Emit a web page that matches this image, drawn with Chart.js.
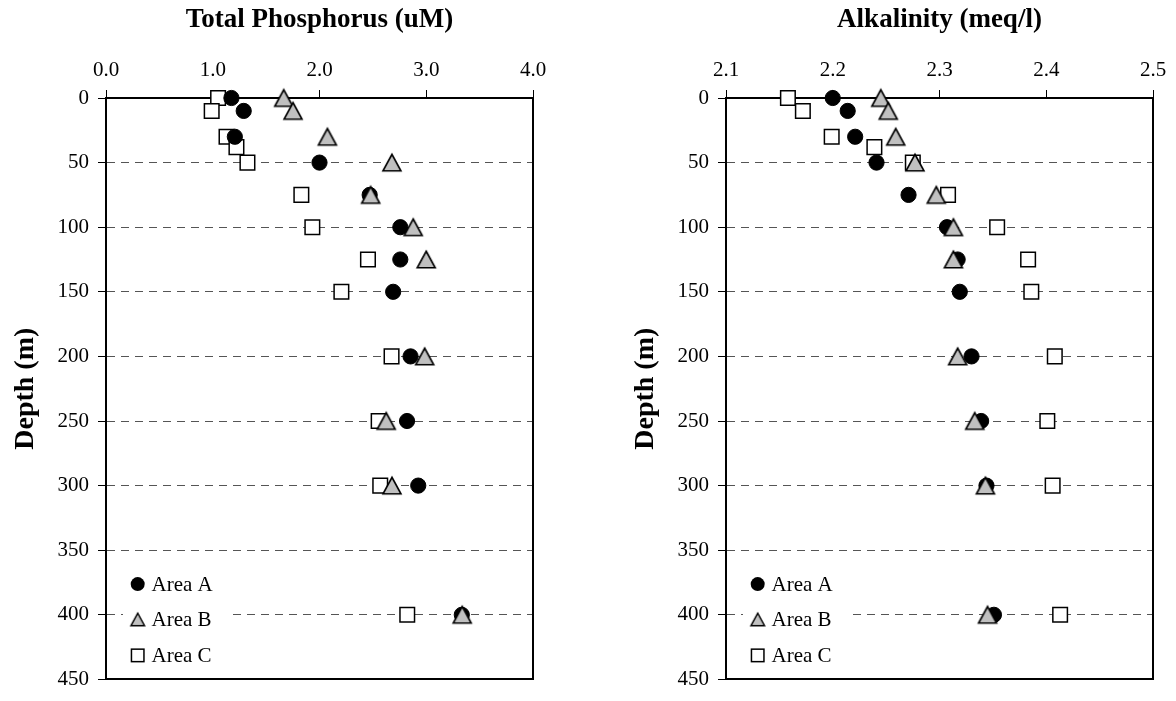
<!DOCTYPE html>
<html><head><meta charset="utf-8">
<script src="https://cdn.jsdelivr.net/npm/chart.js@4.4.1/dist/chart.umd.min.js"></script>
<style>
html,body{margin:0;padding:0;background:#fff;overflow:hidden}
#wrap{position:relative;width:1176px;height:701px;background:#fff}
canvas{position:absolute;top:0}
#c1{left:0}
#c2{left:588px}
</style></head><body>
<div id="wrap"><canvas id="c1" width="588" height="701"></canvas><canvas id="c2" width="588" height="701"></canvas></div>
<script>
// ---- data ----
const seriesNames = ['Area A', 'Area B', 'Area C'];
const depthA = [0, 10, 30, 50, 75, 100, 125, 150, 200, 250, 300, 400];
const depthB = [0, 10, 30, 50, 75, 100, 125, 200, 250, 300, 400];
const depthC = [0, 10, 30, 38, 50, 75, 100, 125, 150, 200, 250, 300, 400];

const tpA = [1.175, 1.29, 1.207, 2.0, 2.47, 2.757, 2.757, 2.69, 2.853, 2.82, 2.925, 3.333];
const tpB = [1.665, 1.752, 2.074, 2.678, 2.479, 2.878, 3.0, 2.985, 2.625, 2.679, 3.337];
const tpC = [1.05, 0.99, 1.129, 1.222, 1.325, 1.83, 1.933, 2.454, 2.205, 2.675, 2.554, 2.569, 2.822];

const alkA = [2.200, 2.214, 2.221, 2.241, 2.271, 2.307, 2.317, 2.319, 2.330, 2.339, 2.344, 2.351];
const alkB = [2.245, 2.252, 2.259, 2.277, 2.297, 2.313, 2.313, 2.317, 2.333, 2.343, 2.345];
const alkC = [2.158, 2.172, 2.199, 2.239, 2.275, 2.308, 2.354, 2.383, 2.386, 2.408, 2.401, 2.406, 2.413];

const depthTicks = [0, 50, 100, 150, 200, 250, 300, 350, 400, 450];
const tpTicks = [0.0, 1.0, 2.0, 3.0, 4.0];
const alkTicks = [2.1, 2.2, 2.3, 2.4, 2.5];

// ---- styles ----
const FONT = "'Liberation Serif', 'Times New Roman', serif";
Chart.defaults.font.family = FONT;
Chart.defaults.color = '#000';

function makeTri(w, h, lw) {
  const pad = Math.ceil(lw) + 1;
  const c = document.createElement('canvas');
  c.width = Math.round(w + 2 * pad);
  c.height = Math.round(h + 2 * pad);
  const g = c.getContext('2d');
  const ox = (c.width - w) / 2, oy = (c.height - h) / 2;
  g.beginPath();
  g.moveTo(ox + w / 2, oy);
  g.lineTo(ox + w, oy + h);
  g.lineTo(ox, oy + h);
  g.closePath();
  g.fillStyle = '#c0c0c0';
  g.fill();
  g.lineWidth = lw;
  g.lineJoin = 'miter';
  g.strokeStyle = '#000';
  g.stroke();
  return c;
}
const triPlot = makeTri(18, 16.5, 1.6);
const triLegend = makeTri(13.5, 12.5, 1.5);

const legendMarkers = [
  {kind: 'circle', r: 7, fill: '#000'},
  {kind: 'image', img: triLegend},
  {kind: 'square', side: 12.5, fill: '#fff', lw: 1.5}
];

const pts = (xs, ys) => xs.map((v, i) => ({x: v, y: ys[i]}));

const areaLegend = {
  id: 'areaLegend',
  afterDraw(chart) {
    const {ctx, chartArea: ca} = chart;
    ctx.save();
    ctx.fillStyle = '#fff';
    ctx.fillRect(ca.left + 17, ca.bottom - 112, 106, 106);
    const rowY = [ca.bottom - 95.3, ca.bottom - 60, ca.bottom - 24];
    const mx = ca.left + 31.7, tx = ca.left + 45.5;
    seriesNames.forEach((name, i) => {
      const m = legendMarkers[i];
      const y = rowY[i];
      if (m.kind === 'circle') {
        ctx.beginPath();
        ctx.arc(mx, y, m.r, 0, Math.PI * 2);
        ctx.fillStyle = m.fill;
        ctx.fill();
      } else if (m.kind === 'image') {
        ctx.drawImage(m.img, mx - m.img.width / 2, y - m.img.height / 2);
      } else {
        ctx.fillStyle = m.fill;
        ctx.fillRect(mx - m.side / 2, y - m.side / 2, m.side, m.side);
        ctx.lineWidth = m.lw;
        ctx.strokeStyle = '#000';
        ctx.strokeRect(mx - m.side / 2, y - m.side / 2, m.side, m.side);
      }
      ctx.fillStyle = '#000';
      ctx.font = '21px ' + FONT;
      ctx.textAlign = 'left';
      ctx.textBaseline = 'middle';
      ctx.fillText(name, tx, y + 1);
    });
    ctx.restore();
  }
};

function buildChart(id, opt) {
  const datasets = [
    {label: seriesNames[0], data: pts(opt.a, depthA), order: 1,
      pointStyle: 'circle', pointRadius: 7.6, pointBorderWidth: 1,
      pointBackgroundColor: '#000', pointBorderColor: '#000'},
    {label: seriesNames[1], data: pts(opt.b, depthB), order: 0,
      pointStyle: triPlot, pointRadius: 9,
      pointBackgroundColor: '#c0c0c0', pointBorderColor: '#000'},
    {label: seriesNames[2], data: pts(opt.c, depthC), order: 2,
      pointStyle: 'rect', pointRadius: 10.3, pointBorderWidth: 1.5,
      pointBackgroundColor: '#fff', pointBorderColor: '#000'}
  ];
  datasets.forEach(d => { d.showLine = false; d.clip = false; });

  const tickFont = {family: FONT, size: 21, weight: 'normal'};

  return new Chart(document.getElementById(id), {
    type: 'scatter',
    data: {datasets},
    options: {
      responsive: false,
      animation: false,
      devicePixelRatio: 1,
      events: [],
      font: {family: FONT},
      layout: {padding: {top: 0, left: 0, right: opt.padRight, bottom: 13}},
      plugins: {legend: {display: false}, tooltip: {enabled: false}, title: {display: false}},
      scales: {
        x: {
          type: 'linear', position: 'top',
          min: opt.xTicks[0], max: opt.xTicks[opt.xTicks.length - 1],
          afterBuildTicks: s => { s.ticks = opt.xTicks.map(v => ({value: v})); },
          ticks: {autoSkip: false, maxRotation: 0, color: '#000', font: tickFont, padding: 7,
            callback: v => Number(v).toFixed(1)},
          grid: {drawOnChartArea: false, drawTicks: true, tickLength: 8, tickColor: '#000', tickWidth: 1, color: '#000'},
          border: {display: true, color: '#000', width: 2},
          title: {display: true, text: opt.title, color: '#000',
            font: {family: FONT, size: 27, weight: 'bold'}, padding: {top: 4, bottom: 0}},
          afterFit: s => { s.height = 98; }
        },
        x2: {
          type: 'linear', position: 'bottom',
          min: opt.xTicks[0], max: opt.xTicks[opt.xTicks.length - 1],
          ticks: {display: false}, grid: {display: false},
          border: {display: true, color: '#000', width: 2},
          afterFit: s => { s.height = 0; }
        },
        y: {
          type: 'linear', position: 'left', reverse: true,
          min: depthTicks[0], max: depthTicks[depthTicks.length - 1],
          afterBuildTicks: s => { s.ticks = depthTicks.map(v => ({value: v})); },
          ticks: {autoSkip: false, color: '#000', font: tickFont, padding: 9},
          grid: {
            color: c => (c.tick && (c.tick.value === 0 || c.tick.value === 450)) ? 'rgba(0,0,0,0)' : '#555',
            lineWidth: 1, drawTicks: true, tickLength: 8, tickColor: '#000', tickWidth: 1
          },
          border: {display: true, color: '#000', width: 2, dash: [8, 6]},
          title: {display: true, text: 'Depth (m)', color: '#000',
            font: {family: FONT, size: 28, weight: 'bold'}, padding: {top: opt.yTitlePad, bottom: 0}},
          afterFit: s => { s.width = opt.yWidth; }
        },
        y2: {
          type: 'linear', position: 'right', reverse: true,
          min: depthTicks[0], max: depthTicks[depthTicks.length - 1],
          ticks: {display: false}, grid: {display: false},
          border: {display: true, color: '#000', width: 2},
          afterFit: s => { s.width = 0; }
        }
      }
    },
    plugins: [areaLegend]
  });
}

buildChart('c1', {title: 'Total Phosphorus (uM)', a: tpA, b: tpB, c: tpC, xTicks: tpTicks,
  yWidth: 106, padRight: 55, yTitlePad: 9});
buildChart('c2', {title: 'Alkalinity (meq/l)', a: alkA, b: alkB, c: alkC, xTicks: alkTicks,
  yWidth: 138, padRight: 23, yTitlePad: 41});
</script>
</body></html>
